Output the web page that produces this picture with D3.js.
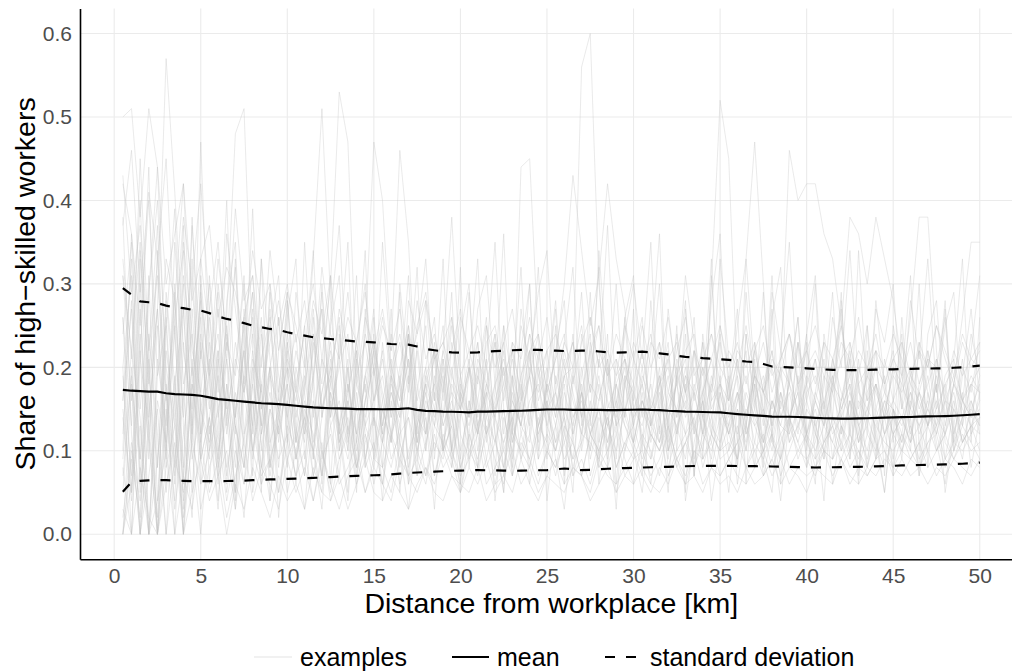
<!DOCTYPE html>
<html>
<head>
<meta charset="utf-8">
<script src="https://cdn.jsdelivr.net/npm/d3@7"></script>
<style>
  html, body { margin: 0; padding: 0; background: #fff; }
  svg { display: block; font-family: "Liberation Sans", Arial, Helvetica, sans-serif; }
</style>
</head>
<body>
<div id="chart"></div>
<script>
// ---------------- DATA ----------------
const distanceKm = [0.5,1,1.5,2,2.5,3,3.5,4,4.5,5,5.5,6,6.5,7,7.5,8,8.5,9,9.5,10,
  10.5,11,11.5,12,12.5,13,13.5,14,14.5,15,15.5,16,16.5,17,17.5,18,18.5,19,19.5,20,
  20.5,21,21.5,22,22.5,23,23.5,24,24.5,25,25.5,26,26.5,27,27.5,28,28.5,29,29.5,30,
  30.5,31,31.5,32,32.5,33,33.5,34,34.5,35,35.5,36,36.5,37,37.5,38,38.5,39,39.5,40,
  40.5,41,41.5,42,42.5,43,43.5,44,44.5,45,45.5,46,46.5,47,47.5,48,48.5,49,49.5,50];

const meanShare = [
  .173,.172,.1715,.171,.171,.169,.168,.1675,.167,.166,
  .164,.162,.161,.160,.159,.158,.157,.1565,.156,.155,
  .154,.153,.152,.1515,.151,.1508,.1505,.150,.150,.150,
  .1498,.150,.1502,.151,.149,.1478,.1476,.147,.1468,.1465,
  .146,.147,.147,.1472,.1475,.1478,.148,.1485,.149,.1495,
  .1495,.1495,.149,.149,.149,.149,.1488,.1488,.149,.1492,
  .1495,.149,.1488,.148,.1475,.147,.1468,.1465,.1462,.146,
  .145,.144,.1432,.1425,.1418,.141,.1408,.1408,.1405,.140,
  .1395,.139,.1388,.1386,.1385,.1388,.139,.1394,.1398,.140,
  .1403,.1405,.141,.1412,.1414,.1416,.142,.1426,.1432,.144];

const sdUpper = [
  .295,.287,.279,.278,.277,.274,.272,.271,.269,.268,
  .265,.261,.258,.256,.253,.250,.248,.246,.245,.242,
  .240,.238,.236,.235,.234,.233,.232,.231,.2305,.230,
  .229,.228,.2275,.2272,.225,.222,.2205,.219,.218,.2175,
  .2175,.218,.219,.2195,.220,.2205,.221,.221,.221,.2205,
  .220,.2196,.2198,.220,.220,.219,.218,.2175,.218,.2185,
  .2188,.218,.2168,.2155,.214,.2125,.212,.211,.2105,.2096,
  .209,.208,.207,.2065,.204,.201,.2005,.200,.1995,.1988,
  .198,.1975,.197,.1968,.1967,.1968,.197,.1972,.1975,.1976,
  .198,.1982,.1985,.1986,.1987,.1988,.1995,.200,.201,.202];

const sdLower = [
  .051,.0625,.064,.0645,.0648,.0648,.0645,.064,.0637,.0636,
  .0636,.0637,.0638,.064,.0643,.0648,.0653,.0657,.066,.0663,
  .0667,.067,.0675,.068,.0685,.069,.0695,.070,.0703,.0707,
  .071,.0718,.0727,.0735,.074,.0745,.075,.0755,.076,.0763,
  .0766,.0768,.0767,.0765,.0762,.076,.0762,.0765,.0767,.0768,
  .0778,.0788,.0778,.0768,.0772,.0778,.0785,.0789,.0793,.0797,
  .080,.0803,.0805,.0808,.0812,.0815,.0818,.082,.082,.082,
  .0819,.0818,.0817,.0816,.0814,.0812,.081,.0808,.0805,.0802,
  .080,.0801,.0803,.0805,.0807,.0808,.081,.0813,.0817,.082,
  .0825,.0828,.083,.0832,.0835,.0838,.084,.0845,.0852,.0858];

const exampleSeries = [
 [.31,.22,.35,.18,.27,.57,.41,.22,.15,.29, .19,.33,.24,.14,.26,.31,.17,.23,.28,.20, .16,.25,.30,.21,.18,.27,.22,.15,.24,.20, .26,.19,.23,.17,.28,.21,.24,.18,.22,.27, .20,.16,.23,.25,.19,.22,.17,.24,.21,.26, .18,.23,.20,.25,.17,.22,.19,.24,.21,.18, .25,.20,.23,.17,.22,.26,.19,.21,.24,.18, .22,.20,.25,.19,.23,.17,.21,.24,.20,.22, .18,.23,.21,.25,.19,.22,.20,.24,.18,.21, .23,.19,.22,.20,.25,.21,.18,.23,.20,.22],
 [.50,.51,.38,.51,.44,.30,.36,.42,.28,.33, .37,.26,.32,.29,.24,.34,.27,.30,.22,.29, .25,.20,.28,.24,.31,.21,.26,.23,.29,.19, .25,.22,.27,.20,.24,.28,.21,.23,.26,.19, .22,.25,.20,.24,.18,.23,.21,.26,.19,.22, .24,.20,.23,.17,.22,.25,.19,.21,.18,.23, .20,.24,.18,.21,.23,.17,.22,.19,.24,.20, .18,.22,.20,.23,.17,.21,.19,.24,.18,.20, .22,.19,.17,.21,.23,.18,.20,.22,.17,.21, .19,.23,.18,.21,.20,.17,.22,.19,.21,.20],
 [.12,.28,.05,.19,.33,.10,.24,.08,.30,.15, .21,.09,.26,.48,.51,.22,.13,.27,.11,.19, .24,.12,.18,.29,.14,.21,.10,.23,.17,.26, .13,.20,.16,.24,.11,.19,.22,.14,.25,.17, .12,.21,.18,.15,.23,.13,.19,.24,.16,.20, .14,.22,.17,.12,.20,.25,.15,.18,.21,.13, .19,.16,.23,.14,.18,.21,.12,.20,.17,.24, .15,.19,.13,.22,.17,.20,.14,.18,.23,.16, .21,.13,.18,.16,.22,.15,.19,.17,.14,.20, .18,.15,.22,.17,.13,.19,.21,.16,.18,.20],
 [.00,.18,.09,.31,.04,.22,.14,.00,.27,.11, .19,.06,.24,.13,.08,.21,.17,.10,.26,.14, .09,.18,.33,.51,.28,.12,.20,.08,.16,.22, .11,.17,.13,.24,.09,.19,.15,.21,.10,.18, .14,.23,.12,.16,.20,.09,.18,.13,.22,.15, .11,.19,.14,.17,.10,.21,.16,.12,.18,.14, .20,.13,.17,.11,.19,.15,.22,.12,.16,.18, .13,.17,.10,.20,.15,.12,.19,.14,.17,.11, .16,.21,.13,.15,.18,.12,.20,.14,.17,.15, .12,.18,.16,.13,.19,.14,.17,.11,.15,.18],
 [.42,.36,.25,.40,.19,.33,.28,.14,.37,.21, .30,.17,.25,.12,.22,.29,.15,.20,.26,.11, .18,.24,.14,.21,.30,.53,.47,.19,.13,.23, .17,.12,.20,.25,.14,.18,.22,.10,.19,.16, .21,.13,.17,.24,.12,.19,.15,.22,.11,.18, .14,.20,.16,.12,.23,.17,.13,.19,.21,.15, .18,.11,.16,.22,.14,.19,.12,.17,.21,.15, .13,.20,.16,.11,.18,.22,.14,.17,.12,.19, .16,.13,.21,.15,.18,.11,.17,.20,.14,.16, .19,.12,.17,.15,.21,.13,.18,.16,.14,.19],
 [.08,.00,.21,.13,.02,.26,.09,.17,.05,.23, .12,.19,.07,.15,.22,.10,.18,.08,.14,.20, .11,.16,.09,.21,.13,.07,.18,.12,.24,.47, .40,.22,.46,.35,.15,.10,.19,.13,.17,.09, .16,.12,.20,.14,.08,.18,.13,.11,.19,.15, .10,.17,.13,.20,.12,.15,.09,.18,.14,.11, .16,.13,.19,.10,.15,.12,.18,.14,.09,.17, .12,.15,.11,.18,.14,.10,.16,.13,.19,.12, .15,.11,.17,.13,.10,.16,.14,.18,.12,.15, .11,.16,.13,.15,.12,.17,.10,.14,.16,.13],
 [.19,.07,.30,.00,.16,.11,.25,.04,.18,.09, .14,.22,.06,.17,.11,.20,.08,.15,.12,.18, .09,.14,.19,.07,.13,.16,.10,.21,.12,.08, .15,.11,.18,.09,.14,.12,.17,.10,.13,.19, .11,.16,.09,.14,.20,.12,.44,.45,.23,.13, .10,.15,.12,.17,.09,.14,.11,.16,.13,.10, .15,.12,.18,.10,.13,.16,.09,.14,.11,.17, .12,.09,.15,.13,.10,.16,.12,.14,.11,.15, .13,.10,.14,.12,.16,.11,.13,.09,.15,.12, .14,.11,.13,.16,.10,.12,.15,.11,.13,.14],
 [.24,.35,.15,.29,.40,.20,.13,.31,.22,.17, .27,.14,.23,.19,.30,.12,.21,.26,.16,.24, .18,.13,.22,.27,.15,.20,.24,.11,.19,.23, .16,.21,.14,.25,.18,.12,.22,.17,.26,.15, .20,.13,.18,.23,.16,.21,.14,.19,.24,.17, .13,.19,.20,.56,.60,.30,.18,.14,.21,.16, .22,.15,.19,.13,.24,.17,.20,.14,.18,.23, .16,.21,.13,.19,.17,.22,.15,.20,.14,.18, .21,.16,.19,.14,.23,.17,.15,.20,.18,.22, .15,.19,.17,.21,.14,.18,.20,.16,.19,.17],
 [.05,.20,.00,.14,.27,.08,.19,.00,.12,.24, .16,.09,.21,.13,.06,.18,.25,.11,.15,.08, .20,.14,.10,.17,.23,.12,.16,.09,.19,.14, .11,.18,.15,.21,.10,.16,.13,.19,.08,.17, .14,.20,.12,.15,.18,.11,.16,.22,.13,.17, .21,.30,.43,.34,.25,.31,.42,.33,.27,.15, .13,.18,.11,.16,.20,.14,.17,.12,.19,.15, .12,.17,.14,.19,.11,.16,.13,.18,.15,.12, .17,.14,.11,.16,.19,.13,.15,.18,.12,.16, .14,.11,.17,.13,.15,.18,.12,.16,.14,.15],
 [.16,.27,.09,.21,.00,.13,.30,.07,.18,.11, .23,.10,.16,.05,.19,.13,.24,.08,.15,.20, .11,.17,.07,.14,.21,.10,.16,.12,.18,.09, .15,.11,.19,.08,.13,.17,.10,.14,.20,.12, .09,.15,.12,.18,.10,.14,.17,.08,.13,.16, .11,.14,.09,.17,.12,.15,.10,.18,.13,.11, .16,.12,.10,.15,.13,.09,.17,.12,.30,.52, .45,.18,.12,.15,.10,.14,.17,.11,.13,.16, .12,.09,.14,.11,.16,.13,.10,.15,.12,.14, .11,.15,.13,.10,.14,.12,.16,.11,.13,.12],
 [.26,.13,.34,.19,.08,.28,.16,.37,.11,.22, .15,.27,.12,.20,.31,.09,.18,.25,.14,.21, .17,.12,.23,.15,.19,.26,.11,.18,.14,.22, .13,.19,.16,.24,.12,.17,.21,.10,.18,.15, .20,.12,.17,.14,.22,.11,.16,.19,.13,.18, .15,.21,.12,.17,.14,.19,.11,.16,.20,.13, .18,.14,.11,.17,.15,.20,.13,.16,.12,.18, .14,.17,.12,.16,.19,.13,.20,.46,.40,.42, .42,.36,.33,.25,.17,.14,.19,.12,.16,.15, .13,.17,.14,.19,.12,.16,.15,.13,.18,.14],
 [.00,.10,.04,.17,.00,.08,.13,.02,.11,.06, .14,.07,.10,.03,.12,.16,.06,.09,.13,.05, .10,.14,.07,.11,.04,.09,.13,.08,.12,.06, .11,.08,.13,.06,.10,.14,.07,.12,.09,.05, .10,.13,.08,.11,.15,.07,.12,.09,.14,.10, .08,.13,.11,.07,.12,.10,.14,.08,.11,.13, .09,.12,.10,.14,.08,.11,.13,.09,.12,.10, .13,.09,.33,.47,.30,.11,.09,.13,.10,.12, .08,.11,.13,.10,.12,.09,.14,.11,.08,.12, .10,.13,.09,.11,.12,.08,.10,.13,.11,.09],
 [.33,.21,.40,.14,.27,.09,.35,.18,.24,.12, .20,.29,.13,.23,.17,.26,.10,.19,.15,.22, .12,.18,.24,.14,.20,.11,.17,.22,.13,.16, .19,.12,.15,.21,.11,.18,.14,.20,.10,.16, .13,.19,.15,.11,.17,.22,.12,.16,.18,.13, .17,.12,.19,.14,.10,.16,.21,.13,.15,.18, .11,.16,.14,.19,.12,.17,.13,.10,.18,.15, .12,.16,.19,.13,.15,.11,.17,.14,.18,.12, .16,.13,.18,.25,.38,.36,.30,.38,.33,.28, .20,.14,.17,.13,.16,.12,.18,.15,.13,.16],
 [.14,.04,.22,.00,.09,.17,.03,.12,.20,.06, .10,.15,.05,.13,.08,.18,.11,.04,.14,.09, .12,.07,.16,.10,.05,.13,.09,.15,.08,.11, .06,.12,.09,.14,.10,.07,.13,.11,.08,.15, .10,.08,.12,.06,.11,.14,.09,.12,.07,.10, .13,.09,.11,.07,.12,.10,.14,.08,.11,.09, .12,.10,.07,.13,.09,.11,.08,.12,.10,.14, .09,.11,.13,.08,.10,.12,.09,.14,.11,.08, .12,.10,.09,.13,.11,.08,.12,.10,.14,.09, .18,.26,.38,.38,.22,.11,.09,.12,.10,.11],
 [.02,.11,.00,.07,.15,.00,.09,.05,.13,.03, .08,.12,.04,.10,.06,.13,.07,.09,.05,.11, .07,.10,.04,.09,.12,.06,.08,.11,.05,.09, .08,.05,.11,.07,.09,.06,.12,.08,.10,.07, .09,.12,.06,.08,.10,.07,.11,.09,.06,.10, .08,.11,.07,.09,.06,.10,.08,.12,.07,.09, .10,.07,.09,.12,.08,.06,.10,.09,.11,.07, .09,.11,.08,.10,.07,.09,.12,.08,.10,.09, .07,.10,.09,.11,.08,.10,.07,.09,.12,.08, .10,.09,.11,.08,.10,.13,.18,.26,.35,.35],
 [.20,.31,.06,.24,.12,.00,.18,.27,.09,.15, .11,.19,.08,.14,.22,.10,.16,.07,.13,.18, .09,.15,.12,.07,.17,.11,.14,.08,.13,.10, .16,.09,.12,.14,.07,.11,.15,.10,.13,.08, .12,.09,.14,.11,.08,.13,.10,.15,.09,.12, .10,.14,.08,.12,.11,.09,.13,.10,.15,.11, .08,.12,.10,.13,.09,.11,.14,.08,.12,.10, .11,.09,.13,.10,.12,.08,.11,.14,.09,.12, .10,.13,.11,.09,.12,.10,.08,.13,.11,.10, .12,.09,.11,.13,.10,.12,.09,.11,.13,.10],
 [.00,.06,.13,.00,.04,.10,.00,.07,.03,.11, .05,.09,.02,.07,.11,.04,.08,.06,.03,.09, .05,.08,.04,.10,.06,.03,.07,.09,.05,.08, .06,.04,.09,.07,.05,.08,.06,.10,.07,.05, .08,.06,.09,.05,.07,.10,.06,.08,.05,.07, .09,.06,.08,.07,.05,.09,.07,.06,.08,.10, .07,.05,.08,.06,.09,.07,.10,.06,.08,.07, .09,.07,.06,.08,.10,.07,.09,.06,.08,.07, .08,.10,.07,.09,.06,.08,.07,.09,.10,.07, .09,.07,.08,.10,.07,.09,.08,.06,.09,.08],
 [.43,.29,.37,.22,.31,.16,.26,.34,.13,.28, .19,.24,.14,.21,.17,.27,.12,.20,.15,.23, .14,.19,.11,.17,.22,.13,.18,.10,.16,.20, .12,.17,.14,.19,.11,.15,.18,.13,.16,.10, .15,.12,.18,.14,.11,.16,.13,.19,.12,.15, .17,.11,.14,.16,.12,.18,.13,.15,.10,.14, .16,.13,.11,.15,.18,.12,.14,.17,.13,.11, .15,.12,.17,.14,.11,.16,.13,.12,.15,.18, .13,.16,.12,.14,.17,.11,.15,.13,.16,.12, .14,.17,.12,.15,.13,.16,.11,.14,.15,.13],
 [.09,.22,.14,.00,.19,.25,.07,.16,.33,.12, .26,.15,.21,.32,.17,.24,.13,.29,.19,.14, .22,.17,.27,.15,.20,.25,.12,.19,.23,.16, .21,.14,.18,.24,.16,.20,.13,.22,.17,.15, .19,.23,.14,.18,.21,.16,.13,.20,.17,.22, .15,.19,.23,.14,.18,.16,.21,.13,.19,.17, .22,.15,.18,.20,.14,.19,.17,.23,.15,.18, .16,.21,.14,.19,.17,.15,.20,.18,.13,.17, .19,.15,.21,.17,.14,.20,.16,.18,.15,.19, .17,.20,.15,.18,.21,.16,.19,.14,.18,.17],
 [.03,.00,.08,.02,.00,.06,.11,.00,.05,.09, .04,.07,.00,.06,.03,.08,.05,.02,.07,.04, .06,.03,.08,.05,.04,.07,.03,.06,.09,.05, .04,.07,.05,.03,.06,.08,.05,.04,.07,.06, .05,.08,.04,.06,.07,.05,.09,.06,.04,.07, .06,.05,.08,.07,.04,.06,.08,.05,.07,.06, .08,.06,.05,.07,.09,.06,.07,.05,.08,.06, .07,.05,.08,.06,.07,.09,.06,.08,.07,.05, .08,.07,.06,.09,.07,.06,.08,.07,.09,.08, .07,.09,.08,.06,.08,.07,.09,.08,.07,.09],
 [.37,.46,.29,.41,.33,.45,.24,.38,.30,.42, .27,.35,.22,.39,.28,.31,.20,.34,.25,.30, .23,.28,.19,.32,.24,.21,.29,.18,.26,.22, .27,.20,.24,.18,.25,.29,.21,.23,.19,.26, .22,.18,.25,.20,.23,.27,.19,.22,.24,.17, .21,.24,.18,.23,.26,.20,.22,.19,.25,.21, .18,.23,.21,.26,.19,.22,.24,.17,.21,.25, .20,.23,.18,.22,.25,.19,.21,.24,.18,.22, .25,.20,.18,.23,.21,.26,.19,.22,.20,.24, .21,.18,.23,.20,.25,.22,.19,.24,.21,.23],
 [.15,.05,.24,.11,.00,.18,.08,.30,.13,.47, .20,.08,.14,.03,.17,.10,.06,.15,.09,.12, .07,.13,.10,.05,.16,.09,.12,.06,.11,.14, .08,.12,.06,.10,.13,.07,.11,.09,.14,.08, .11,.07,.13,.09,.06,.12,.10,.08,.13,.11, .07,.12,.09,.11,.14,.08,.10,.13,.09,.06, .11,.09,.13,.07,.10,.12,.08,.11,.14,.09, .10,.13,.08,.11,.09,.12,.07,.10,.13,.11, .09,.11,.13,.08,.10,.12,.09,.14,.10,.08, .12,.10,.08,.11,.13,.09,.11,.10,.12,.14],
 [.26,.05,.33,.12,.00,.29,.18,.06,.38,.15, .09,.30,.21,.04,.27,.13,.33,.08,.22,.29, .11,.35,.17,.06,.25,.31,.12,.20,.34,.09, .23,.14,.30,.19,.07,.28,.16,.33,.10,.24, .30,.12,.21,.35,.15,.08,.27,.19,.32,.11, .25,.06,.18,.29,.13,.34,.20,.09,.26,.31, .14,.22,.36,.10,.19,.28,.07,.24,.16,.33, .21,.11,.29,.17,.08,.26,.32,.13,.23,.18, .30,.09,.20,.27,.12,.34,.16,.22,.07,.25, .19,.31,.10,.24,.28,.14,.21,.33,.11,.26],
 [.10,.36,.21,.44,.08,.25,.39,.13,.02,.31, .18,.07,.28,.35,.12,.22,.05,.30,.17,.26, .33,.09,.19,.27,.06,.24,.15,.31,.08,.20, .12,.27,.05,.18,.32,.10,.23,.16,.29,.06, .20,.33,.11,.17,.25,.07,.22,.30,.09,.19, .28,.13,.05,.24,.17,.32,.08,.21,.14,.27, .07,.19,.30,.12,.25,.05,.22,.16,.33,.10, .18,.27,.06,.23,.14,.31,.09,.19,.26,.12, .06,.24,.17,.29,.09,.21,.13,.28,.18,.07, .23,.15,.30,.08,.20,.26,.11,.19,.27,.16],
 [.00,.09,.02,.22,.00,.15,.04,.27,.10,.00, .13,.03,.18,.08,.24,.05,.12,.20,.02,.16, .06,.21,.10,.03,.17,.13,.05,.22,.09,.15, .04,.19,.11,.07,.23,.14,.03,.18,.10,.06, .16,.08,.25,.12,.05,.19,.09,.14,.21,.04, .13,.18,.07,.11,.22,.06,.15,.03,.19,.10, .05,.14,.20,.08,.12,.24,.07,.16,.04,.11, .18,.06,.13,.21,.09,.05,.17,.12,.23,.08, .14,.04,.19,.10,.16,.06,.22,.11,.05,.15, .09,.20,.07,.13,.18,.05,.12,.17,.08,.14],
 [.31,.16,.45,.22,.37,.10,.28,.42,.19,.33, .24,.12,.36,.27,.18,.39,.15,.25,.31,.11, .29,.21,.34,.14,.26,.37,.17,.23,.30,.13, .35,.20,.11,.28,.24,.33,.16,.22,.38,.19, .14,.27,.31,.18,.36,.12,.25,.21,.29,.34, .17,.23,.32,.13,.26,.20,.37,.15,.24,.30, .21,.35,.12,.27,.18,.31,.23,.14,.28,.36, .16,.25,.33,.19,.13,.29,.22,.35,.17,.24, .31,.14,.26,.20,.34,.18,.12,.27,.23,.30, .15,.28,.21,.33,.17,.25,.29,.13,.22,.31],
 [.07,.19,.00,.12,.25,.05,.16,.00,.21,.09, .14,.04,.18,.11,.02,.16,.08,.20,.05,.13, .10,.03,.15,.07,.19,.12,.04,.17,.09,.14, .06,.16,.10,.03,.13,.18,.07,.11,.15,.05, .12,.08,.17,.04,.14,.10,.19,.06,.12,.16, .09,.03,.13,.18,.07,.11,.15,.05,.10,.17, .12,.06,.14,.09,.19,.04,.11,.16,.08,.13, .05,.15,.10,.18,.07,.12,.04,.14,.17,.09, .11,.16,.06,.13,.09,.18,.08,.12,.05,.15, .10,.14,.07,.17,.11,.06,.13,.09,.16,.12],
 [.20,.00,.27,.09,.34,.17,.00,.23,.12,.30, .06,.21,.15,.33,.08,.19,.26,.04,.17,.28, .13,.07,.24,.18,.31,.10,.20,.05,.27,.16, .22,.11,.29,.06,.17,.25,.09,.21,.14,.32, .08,.19,.26,.12,.05,.23,.16,.30,.10,.18, .27,.07,.20,.14,.29,.11,.24,.06,.18,.22, .10,.28,.15,.05,.21,.17,.26,.09,.31,.13, .19,.08,.24,.16,.11,.27,.06,.20,.14,.23, .09,.18,.29,.12,.21,.07,.25,.15,.19,.11, .26,.13,.08,.22,.17,.28,.10,.16,.24,.19],
 [.38,.12,.00,.29,.44,.18,.06,.35,.24,.09, .31,.19,.40,.14,.26,.07,.33,.21,.12,.28, .17,.25,.09,.30,.14,.22,.35,.11,.19,.27, .08,.24,.18,.31,.13,.20,.26,.10,.23,.16, .29,.14,.21,.07,.25,.18,.32,.12,.20,.15, .22,.28,.11,.19,.24,.09,.17,.30,.14,.21, .26,.13,.18,.23,.10,.27,.16,.20,.12,.25, .19,.08,.24,.15,.29,.12,.22,.18,.26,.10, .17,.23,.14,.28,.12,.19,.25,.09,.21,.16, .24,.11,.18,.22,.15,.27,.13,.20,.17,.23],
 [.16,.33,.08,.00,.21,.13,.29,.03,.18,.26, .10,.22,.16,.05,.20,.29,.12,.17,.08,.23, .15,.11,.26,.09,.18,.13,.21,.07,.16,.24, .11,.19,.08,.15,.22,.12,.18,.25,.09,.14, .20,.10,.16,.23,.07,.17,.13,.21,.15,.09, .19,.14,.24,.10,.16,.08,.20,.13,.26,.11, .17,.09,.15,.21,.12,.18,.07,.23,.14,.19, .10,.16,.22,.08,.17,.13,.20,.11,.15,.24, .12,.19,.09,.16,.21,.13,.08,.18,.14,.20, .16,.10,.23,.13,.18,.09,.15,.21,.12,.17]
];

const xTicks = [0,5,10,15,20,25,30,35,40,45,50];
const yTicks = [0,0.1,0.2,0.3,0.4,0.5,0.6];
const xTitle = "Distance from workplace [km]";
const yTitle = "Share of high\u2212skilled workers";
const legendLabels = ["examples", "mean", "standard deviation"];

// ---------------- CHART ----------------
const W = 1012, H = 671;
const svg = d3.select("#chart").append("svg").attr("width", W).attr("height", H);

const x = d3.scaleLinear().domain([-1.975, 52.475]).range([80, 1022.6]);
const y = d3.scaleLinear().domain([-0.03, 0.63]).range([559.3, 8.5]);
const [px0, px1] = x.range();
const [py0, py1] = y.range();

// gridlines
const grid = svg.append("g");
grid.selectAll("line.gx").data(xTicks).join("line")
  .attr("x1", d => x(d)).attr("x2", d => x(d))
  .attr("y1", py0).attr("y2", py1)
  .attr("stroke", "#ebebeb").attr("stroke-width", 1.1);
grid.selectAll("line.gy").data(yTicks).join("line")
  .attr("x1", px0).attr("x2", px1)
  .attr("y1", d => y(d)).attr("y2", d => y(d))
  .attr("stroke", "#ebebeb").attr("stroke-width", 1.1);

const lineGen = arr => d3.line()
  .defined((d, i) => i < distanceKm.length && d != null)
  .x((d, i) => x(distanceKm[i]))
  .y(d => y(d))(arr);

// example lines
svg.append("g").selectAll("path").data(exampleSeries).join("path")
  .attr("d", d => lineGen(d))
  .attr("fill", "none")
  .attr("stroke", "#c4c4c4")
  .attr("stroke-opacity", 0.5)
  .attr("stroke-width", 0.7)
  .attr("stroke-linejoin", "round");

// sd lines
[sdUpper, sdLower].forEach(arr => {
  svg.append("path").attr("d", lineGen(arr))
    .attr("fill", "none").attr("stroke", "#000")
    .attr("stroke-width", 2.2)
    .attr("stroke-dasharray", "10,11");
});
// mean line
svg.append("path").attr("d", lineGen(meanShare))
  .attr("fill", "none").attr("stroke", "#000")
  .attr("stroke-width", 2.2);

// axes
const xAxis = d3.axisBottom(x).tickValues(xTicks).tickSize(0).tickPadding(8.8).tickSizeOuter(0);
const gx = svg.append("g").attr("transform", `translate(0,${py0})`).call(xAxis);
const yAxis = d3.axisLeft(y).tickValues(yTicks).tickFormat(d3.format(".1f")).tickSize(0).tickPadding(8).tickSizeOuter(0);
const gy = svg.append("g").attr("transform", `translate(${px0},0)`).call(yAxis);
[gx, gy].forEach(g => {
  g.select(".domain").attr("stroke", "#000").attr("stroke-width", 1.6);
  g.selectAll("text").attr("fill", "#4d4d4d").style("font-size", "21px")
    .style("font-family", '"Liberation Sans", Arial, Helvetica, sans-serif');
});

// titles
svg.append("text").attr("x", (px0 + px1) / 2).attr("y", 613)
  .attr("text-anchor", "middle").style("font-size", "28.5px").attr("fill", "#000")
  .text(xTitle);
svg.append("text").attr("transform", `translate(35,${(py0 + py1) / 2}) rotate(-90)`)
  .attr("text-anchor", "middle").style("font-size", "28.5px").attr("fill", "#000")
  .text(yTitle);

// legend
const leg = svg.append("g");
const legendItems = [
  { key: [254, 292], tx: 300, stroke: "#e3e3e3", w: 1.2, dash: null },
  { key: [452, 489], tx: 497, stroke: "#000", w: 2.2, dash: null },
  { key: [605, 641], tx: 650, stroke: "#000", w: 2.2, dash: "10,11" }
];
legendItems.forEach((it, i) => {
  leg.append("line").attr("x1", it.key[0]).attr("x2", it.key[1])
    .attr("y1", 657).attr("y2", 657)
    .attr("stroke", it.stroke).attr("stroke-width", it.w)
    .attr("stroke-dasharray", it.dash);
  leg.append("text").attr("x", it.tx).attr("y", 666)
    .style("font-size", "25px").attr("fill", "#000").text(legendLabels[i]);
});
</script>
</body>
</html>
